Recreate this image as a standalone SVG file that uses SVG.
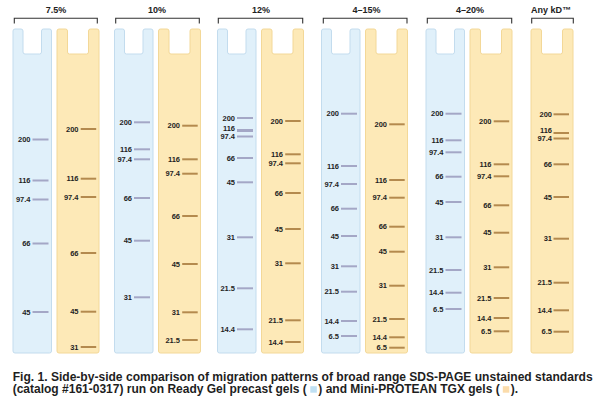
<svg xmlns="http://www.w3.org/2000/svg" xmlns:xlink="http://www.w3.org/1999/xlink" width="602" height="399" viewBox="0 0 602 399">
<style>
.hdr{font-family:"Liberation Sans",Arial,sans-serif;font-weight:bold;font-size:9px;fill:#222;text-anchor:middle}
.brk{fill:none;stroke:#333;stroke-width:1.1}
.lb{font-family:"Liberation Sans",Arial,sans-serif;font-weight:bold;font-size:7.5px;fill:#1f1f1f;text-anchor:end}
.bb{stroke:#a4a7c6;stroke-width:2}
.yb{stroke:#b48a4e;stroke-width:2}
.cap{font-family:"Liberation Sans",Arial,sans-serif;font-weight:bold;font-size:12px;fill:#1e1e1e}
</style>
<defs>
<path id="blueLane" d="M0,2 Q0,0 2,0 H8 Q10,0 10,2 V23 Q10,25 12,25 H26.5 Q28.5,25 28.5,23 V2 Q28.5,0 30.5,0 H36.5 Q38.5,0 38.5,2 V322 Q38.5,324 36.5,324 H2 Q0,324 0,322 Z" fill="#e0f0fa" stroke="#c3dcee" stroke-width="1"/>
<path id="yellowLane" d="M0,2 Q0,0 2,0 H8.5 Q10.5,0 10.5,2 V23 Q10.5,25 12.5,25 H29.5 Q31.5,25 31.5,23 V2 Q31.5,0 33.5,0 H40 Q42,0 42,2 V322 Q42,324 40,324 H2 Q0,324 0,322 Z" fill="#fde9b7" stroke="#f3d898" stroke-width="1"/>
</defs>
<rect width="602" height="399" fill="#fff"/>

<g id="headers">
<g id="h-7.5"><path class="brk" d="M14.3,23.5 V18.3 H97.3 V23.5"/><text class="hdr" x="56" y="13">7.5%</text></g>
<g id="h-10"><path class="brk" d="M115.7,23.5 V18.3 H199.3 V23.5"/><text class="hdr" x="157" y="13">10%</text></g>
<g id="h-12"><path class="brk" d="M218.3,23.5 V18.3 H302.7 V23.5"/><text class="hdr" x="261" y="13">12%</text></g>
<g id="h-4-15"><path class="brk" d="M323.3,23.5 V18.3 H407 V23.5"/><text class="hdr" x="366.5" y="13">4–15%</text></g>
<g id="h-4-20"><path class="brk" d="M427.3,23.5 V18.3 H511.7 V23.5"/><text class="hdr" x="470" y="13">4–20%</text></g>
<g id="h-anykd"><path class="brk" d="M531.7,23.5 V18.3 H573.3 V23.5"/><text class="hdr" x="551" y="13">Any kD™</text></g>
</g>

<g id="lane-7.5-blue" transform="translate(13,29)">
<use xlink:href="#blueLane"/>
<g transform="translate(0,-29)">
<line class="bb" x1="19.5" x2="35.5" y1="139.5" y2="139.5"/><text class="lb" x="17.5" y="142.2">200</text>
<line class="bb" x1="19.5" x2="35.5" y1="180.5" y2="180.5"/><text class="lb" x="17.5" y="183.2">116</text>
<line class="bb" x1="19.5" x2="35.5" y1="199.5" y2="199.5"/><text class="lb" x="17.5" y="202.2">97.4</text>
<line class="bb" x1="19.5" x2="35.5" y1="243.5" y2="243.5"/><text class="lb" x="17.5" y="246.2">66</text>
<line class="bb" x1="19.5" x2="35.5" y1="312" y2="312"/><text class="lb" x="17.5" y="314.7">45</text>
</g></g>

<g id="lane-7.5-yellow" transform="translate(57,29)">
<use xlink:href="#yellowLane"/>
<g transform="translate(0,-29)">
<line class="yb" x1="23.7" x2="39.2" y1="129" y2="129"/><text class="lb" x="21.5" y="131.7">200</text>
<line class="yb" x1="23.7" x2="39.2" y1="178.7" y2="178.7"/><text class="lb" x="21.5" y="181.4">116</text>
<line class="yb" x1="23.7" x2="39.2" y1="197" y2="197"/><text class="lb" x="21.5" y="199.7">97.4</text>
<line class="yb" x1="23.7" x2="39.2" y1="253" y2="253"/><text class="lb" x="21.5" y="255.7">66</text>
<line class="yb" x1="23.7" x2="39.2" y1="311.7" y2="311.7"/><text class="lb" x="21.5" y="314.4">45</text>
<line class="yb" x1="23.7" x2="39.2" y1="347" y2="347"/><text class="lb" x="21.5" y="349.7">31</text>
</g></g>

<g id="lane-10-blue" transform="translate(114.5,29)">
<use xlink:href="#blueLane"/>
<g transform="translate(0,-29)">
<line class="bb" x1="19.5" x2="35.5" y1="122.3" y2="122.3"/><text class="lb" x="17.5" y="125">200</text>
<line class="bb" x1="19.5" x2="35.5" y1="149.3" y2="149.3"/><text class="lb" x="17.5" y="152">116</text>
<line class="bb" x1="19.5" x2="35.5" y1="159.3" y2="159.3"/><text class="lb" x="17.5" y="162">97.4</text>
<line class="bb" x1="19.5" x2="35.5" y1="198" y2="198"/><text class="lb" x="17.5" y="200.7">66</text>
<line class="bb" x1="19.5" x2="35.5" y1="240.7" y2="240.7"/><text class="lb" x="17.5" y="243.4">45</text>
<line class="bb" x1="19.5" x2="35.5" y1="297.3" y2="297.3"/><text class="lb" x="17.5" y="300">31</text>
</g></g>

<g id="lane-10-yellow" transform="translate(158.5,29)">
<use xlink:href="#yellowLane"/>
<g transform="translate(0,-29)">
<line class="yb" x1="23.7" x2="39.2" y1="125.7" y2="125.7"/><text class="lb" x="21.5" y="128.4">200</text>
<line class="yb" x1="23.7" x2="39.2" y1="159.3" y2="159.3"/><text class="lb" x="21.5" y="162">116</text>
<line class="yb" x1="23.7" x2="39.2" y1="173.7" y2="173.7"/><text class="lb" x="21.5" y="176.4">97.4</text>
<line class="yb" x1="23.7" x2="39.2" y1="216" y2="216"/><text class="lb" x="21.5" y="218.7">66</text>
<line class="yb" x1="23.7" x2="39.2" y1="264" y2="264"/><text class="lb" x="21.5" y="266.7">45</text>
<line class="yb" x1="23.7" x2="39.2" y1="312.3" y2="312.3"/><text class="lb" x="21.5" y="315">31</text>
<line class="yb" x1="23.7" x2="39.2" y1="340" y2="340"/><text class="lb" x="21.5" y="342.7">21.5</text>
</g></g>

<g id="lane-12-blue" transform="translate(217.5,29)">
<use xlink:href="#blueLane"/>
<g transform="translate(0,-29)">
<line class="bb" x1="19.5" x2="35.5" y1="118" y2="118"/><text class="lb" x="17.5" y="120.7">200</text>
<line class="bb" x1="19.5" x2="35.5" y1="130.5" y2="130.5" style="stroke-width:3"/><text class="lb" x="17.5" y="131">116</text>
<line class="bb" x1="19.5" x2="35.5" y1="136.5" y2="136.5"/><text class="lb" x="17.5" y="139">97.4</text>
<line class="bb" x1="19.5" x2="35.5" y1="158" y2="158"/><text class="lb" x="17.5" y="160.7">66</text>
<line class="bb" x1="19.5" x2="35.5" y1="182.3" y2="182.3"/><text class="lb" x="17.5" y="185">45</text>
<line class="bb" x1="19.5" x2="35.5" y1="237.3" y2="237.3"/><text class="lb" x="17.5" y="240">31</text>
<line class="bb" x1="19.5" x2="35.5" y1="288.3" y2="288.3"/><text class="lb" x="17.5" y="291">21.5</text>
<line class="bb" x1="19.5" x2="35.5" y1="329.3" y2="329.3"/><text class="lb" x="17.5" y="332">14.4</text>
</g></g>

<g id="lane-12-yellow" transform="translate(261.5,29)">
<use xlink:href="#yellowLane"/>
<g transform="translate(0,-29)">
<line class="yb" x1="23.7" x2="39.2" y1="121" y2="121"/><text class="lb" x="21.5" y="123.7">200</text>
<line class="yb" x1="23.7" x2="39.2" y1="154.3" y2="154.3"/><text class="lb" x="21.5" y="157">116</text>
<line class="yb" x1="23.7" x2="39.2" y1="163.3" y2="163.3"/><text class="lb" x="21.5" y="166">97.4</text>
<line class="yb" x1="23.7" x2="39.2" y1="193" y2="193"/><text class="lb" x="21.5" y="195.7">66</text>
<line class="yb" x1="23.7" x2="39.2" y1="229" y2="229"/><text class="lb" x="21.5" y="231.7">45</text>
<line class="yb" x1="23.7" x2="39.2" y1="263.3" y2="263.3"/><text class="lb" x="21.5" y="266">31</text>
<line class="yb" x1="23.7" x2="39.2" y1="320.3" y2="320.3"/><text class="lb" x="21.5" y="323">21.5</text>
<line class="yb" x1="23.7" x2="39.2" y1="342" y2="342"/><text class="lb" x="21.5" y="344.7">14.4</text>
</g></g>

<g id="lane-4-15-blue" transform="translate(321.5,29)">
<use xlink:href="#blueLane"/>
<g transform="translate(0,-29)">
<line class="bb" x1="19.5" x2="35.5" y1="113.7" y2="113.7"/><text class="lb" x="17.5" y="116.4">200</text>
<line class="bb" x1="19.5" x2="35.5" y1="166" y2="166"/><text class="lb" x="17.5" y="168.7">116</text>
<line class="bb" x1="19.5" x2="35.5" y1="184" y2="184"/><text class="lb" x="17.5" y="186.7">97.4</text>
<line class="bb" x1="19.5" x2="35.5" y1="208.7" y2="208.7"/><text class="lb" x="17.5" y="211.4">66</text>
<line class="bb" x1="19.5" x2="35.5" y1="236" y2="236"/><text class="lb" x="17.5" y="238.7">45</text>
<line class="bb" x1="19.5" x2="35.5" y1="266.3" y2="266.3"/><text class="lb" x="17.5" y="269">31</text>
<line class="bb" x1="19.5" x2="35.5" y1="291.7" y2="291.7"/><text class="lb" x="17.5" y="294.4">21.5</text>
<line class="bb" x1="19.5" x2="35.5" y1="321" y2="321"/><text class="lb" x="17.5" y="323.7">14.4</text>
<line class="bb" x1="19.5" x2="35.5" y1="336" y2="336"/><text class="lb" x="17.5" y="338.7">6.5</text>
</g></g>

<g id="lane-4-15-yellow" transform="translate(365.5,29)">
<use xlink:href="#yellowLane"/>
<g transform="translate(0,-29)">
<line class="yb" x1="23.7" x2="39.2" y1="124.3" y2="124.3"/><text class="lb" x="21.5" y="127">200</text>
<line class="yb" x1="23.7" x2="39.2" y1="180" y2="180"/><text class="lb" x="21.5" y="182.7">116</text>
<line class="yb" x1="23.7" x2="39.2" y1="197.7" y2="197.7"/><text class="lb" x="21.5" y="200.4">97.4</text>
<line class="yb" x1="23.7" x2="39.2" y1="226.7" y2="226.7"/><text class="lb" x="21.5" y="229.4">66</text>
<line class="yb" x1="23.7" x2="39.2" y1="251.7" y2="251.7"/><text class="lb" x="21.5" y="254.4">45</text>
<line class="yb" x1="23.7" x2="39.2" y1="285.7" y2="285.7"/><text class="lb" x="21.5" y="288.4">31</text>
<line class="yb" x1="23.7" x2="39.2" y1="319" y2="319"/><text class="lb" x="21.5" y="321.7">21.5</text>
<line class="yb" x1="23.7" x2="39.2" y1="337.3" y2="337.3"/><text class="lb" x="21.5" y="340">14.4</text>
<line class="yb" x1="23.7" x2="39.2" y1="347.7" y2="347.7"/><text class="lb" x="21.5" y="350.4">6.5</text>
</g></g>

<g id="lane-4-20-blue" transform="translate(426,29)">
<use xlink:href="#blueLane"/>
<g transform="translate(0,-29)">
<line class="bb" x1="19.5" x2="35.5" y1="113.7" y2="113.7"/><text class="lb" x="17.5" y="116.4">200</text>
<line class="bb" x1="19.5" x2="35.5" y1="140.3" y2="140.3"/><text class="lb" x="17.5" y="143">116</text>
<line class="bb" x1="19.5" x2="35.5" y1="152.3" y2="152.3"/><text class="lb" x="17.5" y="155">97.4</text>
<line class="bb" x1="19.5" x2="35.5" y1="176.7" y2="176.7"/><text class="lb" x="17.5" y="179.4">66</text>
<line class="bb" x1="19.5" x2="35.5" y1="202" y2="202"/><text class="lb" x="17.5" y="204.7">45</text>
<line class="bb" x1="19.5" x2="35.5" y1="237.3" y2="237.3"/><text class="lb" x="17.5" y="240">31</text>
<line class="bb" x1="19.5" x2="35.5" y1="270" y2="270"/><text class="lb" x="17.5" y="272.7">21.5</text>
<line class="bb" x1="19.5" x2="35.5" y1="292.7" y2="292.7"/><text class="lb" x="17.5" y="295.4">14.4</text>
<line class="bb" x1="19.5" x2="35.5" y1="309" y2="309"/><text class="lb" x="17.5" y="311.7">6.5</text>
</g></g>

<g id="lane-4-20-yellow" transform="translate(470,29)">
<use xlink:href="#yellowLane"/>
<g transform="translate(0,-29)">
<line class="yb" x1="23.7" x2="39.2" y1="121.3" y2="121.3"/><text class="lb" x="21.5" y="124">200</text>
<line class="yb" x1="23.7" x2="39.2" y1="164.3" y2="164.3"/><text class="lb" x="21.5" y="167">116</text>
<line class="yb" x1="23.7" x2="39.2" y1="176.3" y2="176.3"/><text class="lb" x="21.5" y="179">97.4</text>
<line class="yb" x1="23.7" x2="39.2" y1="205.3" y2="205.3"/><text class="lb" x="21.5" y="208">66</text>
<line class="yb" x1="23.7" x2="39.2" y1="232.7" y2="232.7"/><text class="lb" x="21.5" y="235.4">45</text>
<line class="yb" x1="23.7" x2="39.2" y1="267.3" y2="267.3"/><text class="lb" x="21.5" y="270">31</text>
<line class="yb" x1="23.7" x2="39.2" y1="298" y2="298"/><text class="lb" x="21.5" y="300.7">21.5</text>
<line class="yb" x1="23.7" x2="39.2" y1="318" y2="318"/><text class="lb" x="21.5" y="320.7">14.4</text>
<line class="yb" x1="23.7" x2="39.2" y1="331.3" y2="331.3"/><text class="lb" x="21.5" y="334">6.5</text>
</g></g>

<g id="lane-anykd-yellow" transform="translate(531,29)">
<use xlink:href="#yellowLane"/>
<g transform="translate(0,-29)">
<line class="yb" x1="22.5" x2="38" y1="114.3" y2="114.3"/><text class="lb" x="21" y="117">200</text>
<line class="yb" x1="22.5" x2="38" y1="133" y2="133"/><text class="lb" x="21" y="133.3">116</text>
<line class="yb" x1="22.5" x2="38" y1="138.5" y2="138.5"/><text class="lb" x="21" y="141">97.4</text>
<line class="yb" x1="22.5" x2="38" y1="164.3" y2="164.3"/><text class="lb" x="21" y="167">66</text>
<line class="yb" x1="22.5" x2="38" y1="197" y2="197"/><text class="lb" x="21" y="199.7">45</text>
<line class="yb" x1="22.5" x2="38" y1="238.7" y2="238.7"/><text class="lb" x="21" y="241.4">31</text>
<line class="yb" x1="22.5" x2="38" y1="282.7" y2="282.7"/><text class="lb" x="21" y="285.4">21.5</text>
<line class="yb" x1="22.5" x2="38" y1="310.3" y2="310.3"/><text class="lb" x="21" y="313">14.4</text>
<line class="yb" x1="22.5" x2="38" y1="331.7" y2="331.7"/><text class="lb" x="21" y="334.4">6.5</text>
</g></g>

<g id="connectors"></g>

<g id="caption">
<text class="cap" x="12.7" y="380.5" textLength="580" lengthAdjust="spacingAndGlyphs">Fig. 1. Side-by-side comparison of migration patterns of broad range SDS-PAGE unstained standards</text>
<text class="cap" x="12.7" y="393">(catalog #161-0317) run on Ready Gel precast gels (</text>
<rect x="310.3" y="386.2" width="6.5" height="6.5" fill="#bfe0f3"/>
<text class="cap" x="318.3" y="393">) and Mini-PROTEAN TGX gels (</text>
<rect x="502.8" y="386.2" width="6.5" height="6.5" fill="#fbdcab"/>
<text class="cap" x="510.8" y="393">).</text>
</g>
</svg>
